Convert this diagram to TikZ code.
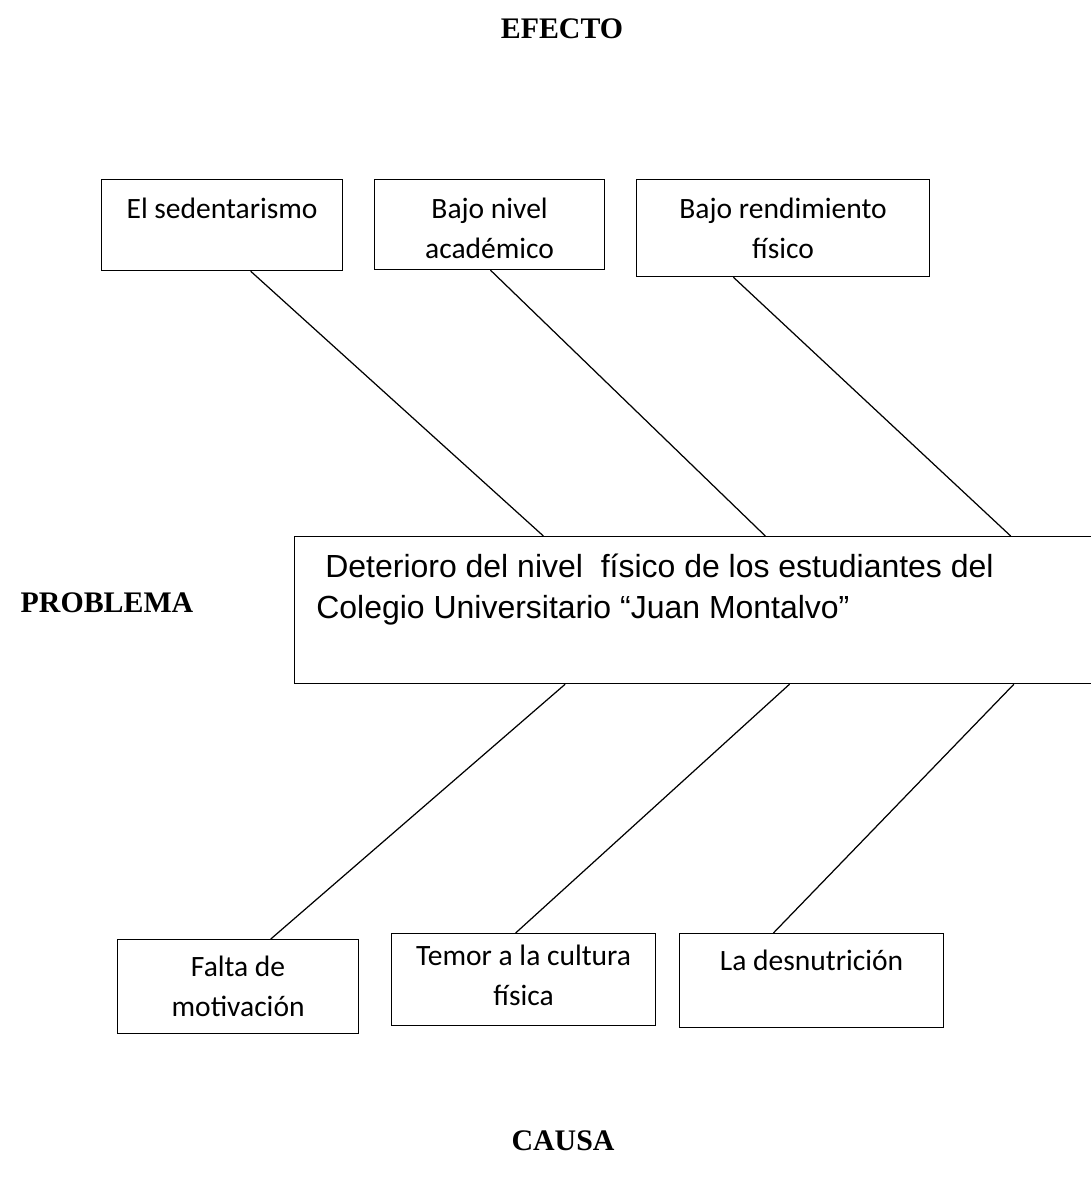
\documentclass[tikz,border=0pt]{standalone}
\usepackage{fontspec}
\setmainfont{Liberation Serif}
\newfontfamily\calfont{Carlito}
\newfontfamily\arialfont{Liberation Sans}
\usetikzlibrary{positioning, calc}
\tikzset{
  box/.style={draw, rectangle, line width=0.7pt, anchor=north west, inner sep=0pt},
  lbl/.style={anchor=north, align=center, inner sep=0pt, font=\calfont\fontsize{16.8}{22.7}\selectfont},
  head/.style={font=\bfseries\fontsize{17}{20}\selectfont},
  conn/.style={line width=0.7pt}
}

\begin{document}
\begin{tikzpicture}[x=0.02cm, y=-0.02cm]
\useasboundingbox (0,0) rectangle (1091,1191);

\node[head] (efecto) at (562,29) {EFECTO};
\node[head] (problema) at (107,603) {PROBLEMA};
\node[head] (causa) at (563,1141) {CAUSA};

% efectos
\node[box, minimum width=4.82cm, minimum height=1.82cm, label={[lbl, yshift=-0.37cm]north:El sedentarismo}] (e1) at (101,179) {};
\node[box, minimum width=4.60cm, minimum height=1.80cm, label={[lbl, yshift=-0.37cm]north:{Bajo nivel\\académico}}] (e2) at (374,179) {};
\node[box, minimum width=5.86cm, minimum height=1.94cm, label={[lbl, yshift=-0.37cm]north:{Bajo rendimiento\\físico}}] (e3) at (636,179) {};

% problema
\node[box, minimum width=16.12cm, minimum height=2.94cm, label={[anchor=north west, align=left, inner sep=0pt, font=\arialfont\fontsize{18.2}{23.2}\selectfont, xshift=0.44cm, yshift=-0.36cm]north west:{\hspace*{0.18cm}Deterioro del nivel\ \ físico de los estudiantes del\\Colegio Universitario “Juan Montalvo”}}] (p) at (294,536) {};

% causas
\node[box, minimum width=4.82cm, minimum height=1.88cm, label={[lbl, yshift=-0.33cm]north:{Falta de\\motivación}}] (c1) at (117,939) {};
\node[box, minimum width=5.28cm, minimum height=1.84cm, label={[lbl, yshift=-0.24cm]north:{Temor a la cultura\\física}}] (c2) at (391,933) {};
\node[box, minimum width=5.28cm, minimum height=1.88cm, label={[lbl, yshift=-0.34cm]north:La desnutrición}] (c3) at (679,933) {};

\draw[conn] ($(e1.south west)!.618!(e1.south east)$) -- ($(p.north west)!.309!(p.north east)$);
\draw[conn] ($(e2.south west)!.504!(e2.south east)$) -- ($(p.north west)!.584!(p.north east)$);
\draw[conn] ($(e3.south west)!.331!(e3.south east)$) -- ($(p.north west)!.888!(p.north east)$);
\draw[conn] ($(p.south west)!.336!(p.south east)$) -- ($(c1.north west)!.635!(c1.north east)$);
\draw[conn] ($(p.south west)!.614!(p.south east)$) -- ($(c2.north west)!.470!(c2.north east)$);
\draw[conn] ($(p.south west)!.892!(p.south east)$) -- ($(c3.north west)!.356!(c3.north east)$);
\end{tikzpicture}
\end{document}
